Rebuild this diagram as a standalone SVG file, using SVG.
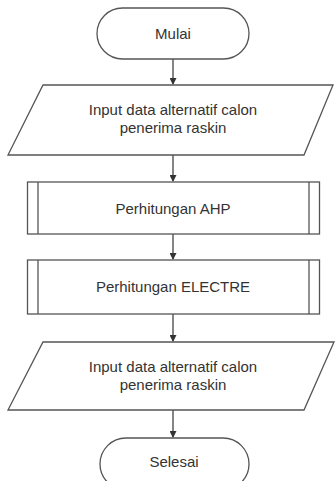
<svg xmlns="http://www.w3.org/2000/svg" width="335" height="481" viewBox="0 0 335 481">
<defs>
<style>
.s{fill:#fff;stroke:#555;stroke-width:1.3}
.t{font-family:"Liberation Sans",Arial,sans-serif;font-size:15px;fill:#333;text-anchor:middle}
.c{stroke:#444;stroke-width:1.3;fill:none}
</style>
<marker id="a" markerWidth="7" markerHeight="7" refX="6" refY="3.5" orient="auto" markerUnits="userSpaceOnUse">
<path d="M0,0 L7,3.5 L0,7 z" fill="#333"/>
</marker>
</defs>
<rect width="335" height="481" fill="#fff"/>
<g id="connectors">
<line class="c" x1="173" y1="59" x2="173" y2="84" marker-end="url(#a)"/>
<line class="c" x1="173" y1="155" x2="173" y2="181" marker-end="url(#a)"/>
<line class="c" x1="173" y1="234" x2="173" y2="259" marker-end="url(#a)"/>
<line class="c" x1="173" y1="314" x2="173" y2="341" marker-end="url(#a)"/>
<line class="c" x1="173" y1="410" x2="173" y2="437" marker-end="url(#a)"/>
</g>
<g id="mulai">
<rect class="s" x="97" y="8" width="152" height="51" rx="25.5"/>
<text class="t" x="173" y="39">Mulai</text>
</g>
<g id="input1">
<polygon class="s" points="43,85 333,85 304,155 8,155"/>
<text class="t" x="173" y="115">Input data alternatif calon</text>
<text class="t" x="173" y="133">penerima raskin</text>
</g>
<g id="ahp">
<rect class="s" x="27.5" y="182" width="292" height="52"/>
<line class="s" x1="38" y1="182" x2="38" y2="234"/>
<line class="s" x1="309" y1="182" x2="309" y2="234"/>
<text class="t" x="173" y="214">Perhitungan AHP</text>
</g>
<g id="electre">
<rect class="s" x="27.5" y="260" width="292" height="54"/>
<line class="s" x1="38" y1="260" x2="38" y2="314"/>
<line class="s" x1="309" y1="260" x2="309" y2="314"/>
<text class="t" x="173" y="292">Perhitungan ELECTRE</text>
</g>
<g id="input2">
<polygon class="s" points="43,342 334,342 304,410 8,410"/>
<text class="t" x="173" y="372">Input data alternatif calon</text>
<text class="t" x="173" y="390">penerima raskin</text>
</g>
<g id="selesai">
<rect class="s" x="100" y="438" width="149" height="52" rx="26"/>
<text class="t" x="174" y="467">Selesai</text>
</g>
</svg>
